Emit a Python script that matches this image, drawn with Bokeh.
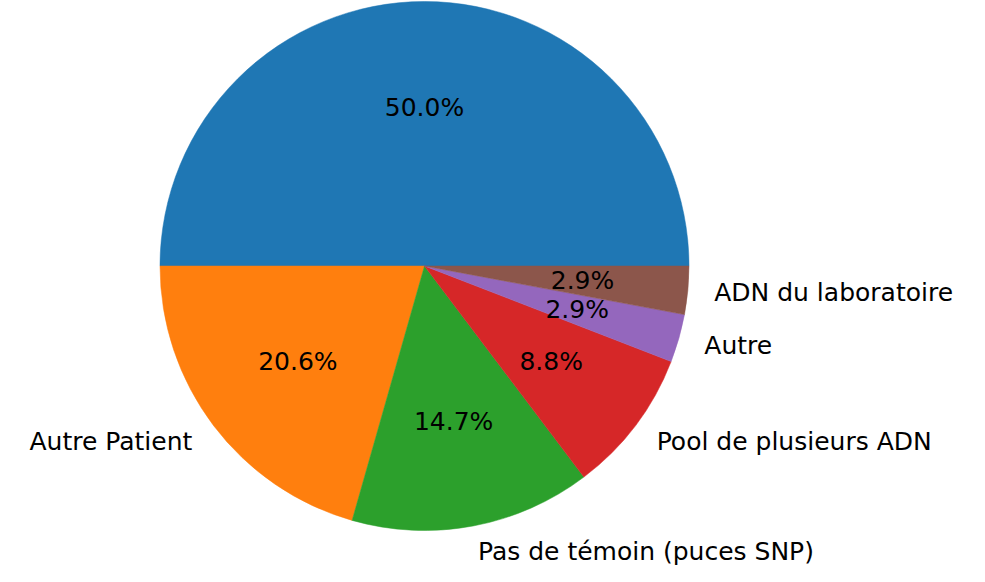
import math
from bokeh.plotting import figure
from bokeh.models import Range1d, ColumnDataSource
from bokeh.core.properties import value
from bokeh.embed import file_html
from bokeh.resources import INLINE

labels = ["", "Autre Patient", "Pas de témoin (puces SNP)", "Pool de plusieurs ADN", "Autre", "ADN du laboratoire"]
counts = [17, 7, 5, 3, 1, 1]
colors = ["#1f77b4", "#ff7f0e", "#2ca02c", "#d62728", "#9467bd", "#8c564b"]

W, H = 969, 566
R = 264.5              # pie radius in pixels
CX, CY = 424.0, 265.5  # pie centre in figure pixels (from left/top)

total = float(sum(counts))
starts, ends, mids = [], [], []
acc = 0.0
for c in counts:
    a0 = 2 * math.pi * acc / total
    acc += c
    a1 = 2 * math.pi * acc / total
    starts.append(a0)
    ends.append(a1)
    mids.append((a0 + a1) / 2)

pct = ["%.1f%%" % (100.0 * c / total) for c in counts]

src = ColumnDataSource(dict(start=starts, end=ends, color=colors))

p = figure(width=W, height=H, output_backend="svg", toolbar_location=None,
           x_range=Range1d(-CX / R, (W - CX) / R),
           y_range=Range1d(-(H - CY) / R, CY / R),
           min_border=0, outline_line_color=None)
p.axis.visible = False
p.grid.visible = False
p.background_fill_color = "white"
p.border_fill_color = "white"

p.wedge(x=0, y=0, radius=1.0, start_angle="start", end_angle="end",
        fill_color="color", line_color="color", line_width=0.5, source=src)

# percentage labels at 0.6 r
px = [0.6 * math.cos(m) for m in mids]
py = [0.6 * math.sin(m) for m in mids]
p.text(x=px, y=py, text=pct, text_align="center", text_baseline="middle",
       text_font=value("DejaVu Sans"), text_font_size="25px", text_color="black")

# category labels at 1.1 r
lx, ly, lt, la = [], [], [], []
for lab, m in zip(labels, mids):
    if not lab:
        continue
    x = 1.1 * math.cos(m)
    y = 1.1 * math.sin(m)
    lx.append(x)
    ly.append(y)
    lt.append(lab)
    la.append("left" if x > 0 else "right")
lsrc = ColumnDataSource(dict(x=lx, y=ly, text=lt, align=la))
p.text(x="x", y="y", text="text", text_align="align", text_baseline="middle",
       text_font=value("DejaVu Sans"), text_font_size="25px", text_color="black",
       source=lsrc)

open("out.html", "w").write(file_html(p, INLINE))
